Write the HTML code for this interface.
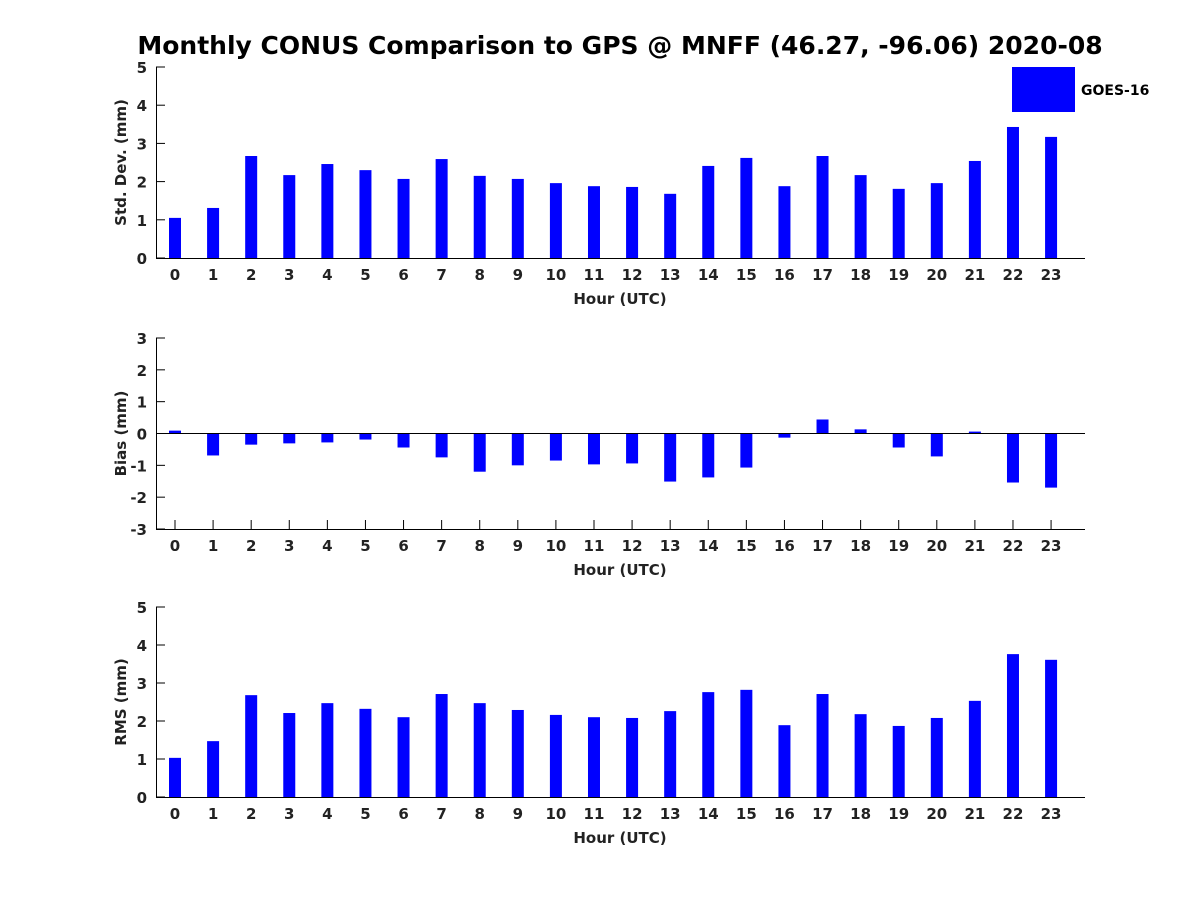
<!DOCTYPE html>
<html><head><meta charset="utf-8">
<style>
html,body{margin:0;padding:0;background:#fff;}
svg{display:block;font-family:"DejaVu Sans","Liberation Sans",sans-serif;font-weight:bold;}
</style></head>
<body>
<svg id="chart" width="1200" height="900" viewBox="0 0 1200 900">
<rect width="1200" height="900" fill="#fff"/>
<text x="620" y="54" text-anchor="middle" font-size="25" fill="#000">Monthly CONUS Comparison to GPS @ MNFF (46.27, -96.06) 2020-08</text>
<rect x="1012" y="67" width="63" height="45" fill="#0000ff"/>
<text x="1081" y="95" font-size="14" fill="#000">GOES-16</text>
</svg>
<script>
const hours = [0,1,2,3,4,5,6,7,8,9,10,11,12,13,14,15,16,17,18,19,20,21,22,23];
const stdValues = [1.05,1.31,2.67,2.17,2.46,2.30,2.07,2.59,2.15,2.07,1.96,1.88,1.86,1.68,2.41,2.62,1.88,2.67,2.17,1.81,1.96,2.54,3.43,3.17];
const biasValues = [0.09,-0.69,-0.35,-0.31,-0.28,-0.19,-0.44,-0.75,-1.2,-1.0,-0.85,-0.97,-0.94,-1.51,-1.38,-1.07,-0.13,0.44,0.13,-0.44,-0.72,0.06,-1.54,-1.7];
const rmsValues = [1.03,1.47,2.68,2.21,2.47,2.32,2.1,2.71,2.47,2.29,2.16,2.1,2.08,2.26,2.76,2.82,1.89,2.71,2.18,1.87,2.08,2.53,3.76,3.61];
const stdTicks = [0,1,2,3,4,5];
const biasTicks = [-3,-2,-1,0,1,2,3];
const rmsTicks = [0,1,2,3,4,5];

const NS = "http://www.w3.org/2000/svg";
const svg = document.getElementById('chart');
function mk(tag, attrs, parent){
  const e = document.createElementNS(NS, tag);
  for (const k in attrs) e.setAttribute(k, attrs[k]);
  (parent||svg).appendChild(e);
  return e;
}
const xLeft = 156, xRight = 1085;
function xScale(h){ return 175 + h * 38.09; }

function panel(name, top, bottom, yMin, yMax, ticks, values, ylabel){
  const g = mk('g', {});
  
  
  const y = v => bottom - (v - yMin) / (yMax - yMin) * (bottom - top);
  const base = (yMin < 0) ? y(0) : y(yMin);
  ticks.forEach(t => {
    const ty = y(t);
    mk('line', {x1: xLeft, x2: xLeft + 9, y1: ty, y2: ty, stroke: '#000'}, g);
    const tx = mk('text', {x: xLeft - 9, y: ty + 6, 'text-anchor': 'end', 'font-size': 15, fill: '#222'}, g);
    tx.textContent = t;
    
    
  });
  hours.forEach(h => {
    const hx = xScale(h);
    mk('line', {x1: hx, x2: hx, y1: bottom, y2: bottom - 9, stroke: '#000'}, g);
    const tx = mk('text', {x: hx, y: bottom + 22, 'text-anchor': 'middle', 'font-size': 15, fill: '#222'}, g);
    tx.textContent = h;
    
    
  });
  values.forEach((v, i) => {
    const y1 = y(v);
    const r = mk('rect', {x: xScale(hours[i]) - 6, y: Math.min(y1, base), width: 12, height: Math.abs(base - y1), fill: '#0000ff'}, g);
    
    
  });
  if (yMin < 0) {
    const z = mk('line', {x1: xLeft, x2: xRight, y1: y(0), y2: y(0), stroke: '#000', 'stroke-width': 1}, g);
    
    
  }
  const ya = mk('line', {x1: xLeft + 0.5, x2: xLeft + 0.5, y1: top, y2: bottom, stroke: '#000'}, g);
  
  
  const xa = mk('line', {x1: xLeft, x2: xRight, y1: bottom + 0.5, y2: bottom + 0.5, stroke: '#000'}, g);
  
  
  const xl = mk('text', {x: 620, y: bottom + 46, 'text-anchor': 'middle', 'font-size': 15, fill: '#222'}, g);
  xl.textContent = 'Hour (UTC)';
  
  
  const cy = (top + bottom) / 2;
  const yl = mk('text', {x: 0, y: 0, 'text-anchor': 'middle', 'font-size': 15, fill: '#222', transform: 'translate(126,' + cy + ') rotate(-90)'}, g);
  yl.textContent = ylabel;
  
  
}
panel('std-dev', 67, 258, 0, 5, stdTicks, stdValues, 'Std. Dev. (mm)');
panel('bias', 338, 529, -3, 3, biasTicks, biasValues, 'Bias (mm)');
panel('rms', 607, 797, 0, 5, rmsTicks, rmsValues, 'RMS (mm)');
</script>
</body></html>
